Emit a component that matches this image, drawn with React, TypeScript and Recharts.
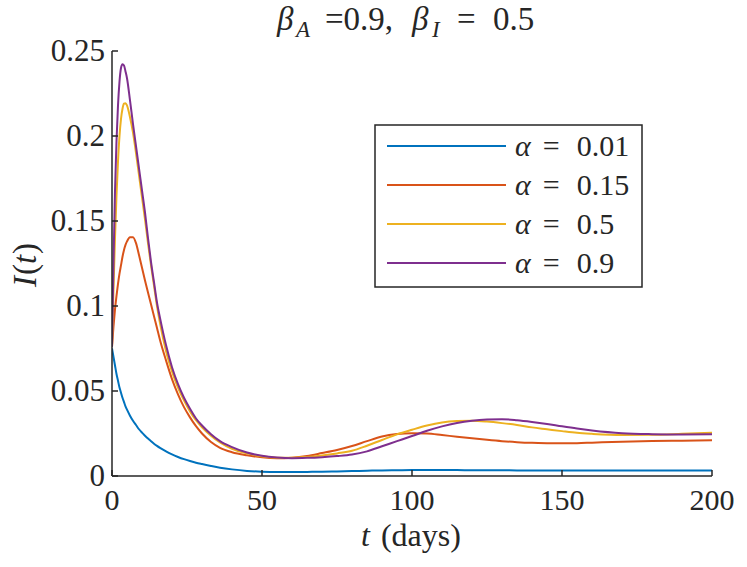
import React from 'react';
import { LineChart, Line, XAxis, YAxis, Customized } from 'recharts';

const T = [0,0.5,1,1.5,2,2.5,3,3.5,4,4.5,5,6,7,8,9,10,11,12,13,14,15,16,18,20,22,24,26,28,30,33,36,40,45,50,55,60,65,70,75,80,85,90,95,100,105,110,115,120,125,130,135,140,145,150,155,160,170,180,190,200];

const ALPHA_001 = [0.075,0.070,0.065,0.060,0.056,0.052,0.049,0.046,0.0435,0.041,
  0.039,0.0355,0.0325,0.030,0.0275,0.0255,0.0237,0.022,0.0205,0.019,
  0.0177,0.0165,0.0145,0.0127,0.0112,0.0099,0.0088,0.0078,0.007,0.0059,
  0.0049,0.0039,0.003,0.0025,0.0023,0.0023,0.0024,0.0025,0.0027,0.0029,
  0.0031,0.0033,0.0034,0.0035,0.0035,0.0035,0.0035,0.0034,0.0034,0.0034,
  0.0033,0.0033,0.0033,0.0033,0.0033,0.0033,0.0033,0.0033,0.0033,0.0033];

const ALPHA_015 = [0.076,0.088,0.098,0.106,0.113,0.119,0.124,0.129,0.133,0.136,
  0.138,0.1405,0.1405,0.137,0.130,0.1225,0.115,0.108,0.101,0.094,
  0.087,0.080,0.068,0.057,0.048,0.0405,0.0345,0.0293,0.025,0.020,
  0.0166,0.014,0.0122,0.011,0.0105,0.0108,0.0118,0.0135,0.0153,0.0176,
  0.0205,0.0232,0.0247,0.0252,0.025,0.0241,0.0231,0.0222,0.0213,0.0205,
  0.0199,0.0195,0.0193,0.0192,0.0193,0.0196,0.0202,0.0206,0.0208,0.021];

const ALPHA_05 = [0.076,0.11,0.14,0.165,0.185,0.2,0.21,0.216,0.219,0.2193,
  0.218,0.211,0.202,0.190,0.177,0.164,0.151,0.137,0.124,0.112,
  0.100,0.090,0.0735,0.0615,0.052,0.0445,0.038,0.0328,0.0287,0.0237,
  0.0197,0.016,0.0133,0.0116,0.0108,0.0107,0.0112,0.0121,0.0133,0.0148,
  0.0178,0.0212,0.0245,0.0272,0.0297,0.0315,0.0323,0.0325,0.032,0.0311,
  0.03,0.0286,0.0275,0.0264,0.0254,0.0248,0.0241,0.0242,0.0248,0.0255];

const ALPHA_09 = [0.076,0.125,0.168,0.197,0.218,0.232,0.240,0.2422,0.2415,0.238,
  0.234,0.221,0.207,0.194,0.181,0.168,0.155,0.140,0.126,0.114,
  0.102,0.093,0.077,0.064,0.054,0.046,0.0395,0.0338,0.0297,0.0246,
  0.0205,0.017,0.0138,0.0119,0.0109,0.0105,0.0107,0.0111,0.0117,0.0126,
  0.0145,0.0175,0.0205,0.0235,0.0266,0.0292,0.0312,0.0325,0.0332,0.0334,
  0.0328,0.0318,0.0306,0.0292,0.0279,0.0268,0.0252,0.0246,0.0244,0.0245];

const X_TICKS = [0, 50, 100, 150, 200];
const Y_TICKS = [0, 0.05, 0.1, 0.15, 0.2, 0.25];

const SERIES = [
  { key: 'a1', label: '0.01', color: '#0072BD', values: ALPHA_001 },
  { key: 'a2', label: '0.15', color: '#D95319', values: ALPHA_015 },
  { key: 'a3', label: '0.5', color: '#EDB120', values: ALPHA_05 },
  { key: 'a4', label: '0.9', color: '#7E2F8E', values: ALPHA_09 },
];

const data = T.map((t, i) => {
  const row: any = { t };
  SERIES.forEach((s) => { row[s.key] = s.values[i]; });
  return row;
});

const FONT = "'Liberation Serif', 'DejaVu Serif', serif";
const INK = '#262626';

const YTick = (props: any) => {
  const { x, y, payload } = props;
  return (
    <g>
      <line x1={x} x2={x + 6} y1={y} y2={y} stroke={INK} strokeWidth={1.5} />
      <text x={x - 7} y={y + 10} textAnchor="end" fontFamily={FONT} fontSize={31} fill={INK}>
        {String(payload.value)}
      </text>
    </g>
  );
};

const XTick = (props: any) => {
  const { x, y, payload } = props;
  return (
    <g>
      <line x1={x} x2={x} y1={y} y2={y - 6} stroke={INK} strokeWidth={1.5} />
      <text x={x} y={y + 34} textAnchor="middle" fontFamily={FONT} fontSize={30} fill={INK}>
        {String(payload.value)}
      </text>
    </g>
  );
};

const Texts = () => (
  <g fontFamily={FONT} fill={INK}>
    <text y={30} fontSize={33}>
      <tspan x={277} fontStyle="italic">β</tspan>
      <tspan x={296} fontStyle="italic" fontSize={23} dy={7}>A</tspan>
      <tspan x={325} dy={-7}>=0.9,</tspan>
      <tspan x={412} fontStyle="italic">β</tspan>
      <tspan x={432} fontStyle="italic" fontSize={23} dy={7}>I</tspan>
      <tspan x={457} dy={-7}>=</tspan>
      <tspan x={493}>0.5</tspan>
    </text>
    <text x={0} y={0} transform="translate(36,265) rotate(-90)" textAnchor="middle" fontSize={33}>
      <tspan fontStyle="italic">I</tspan>
      <tspan dx={1}>(</tspan>
      <tspan fontStyle="italic">t</tspan>
      <tspan dx={1}>)</tspan>
    </text>
    <text x={411} y={546} textAnchor="middle" fontSize={32}>
      <tspan fontStyle="italic">t</tspan>
      <tspan dx={11}>(days)</tspan>
    </text>
  </g>
);

const LegendBox = () => (
  <g fontFamily={FONT} fill={INK}>
    <rect x={375} y={125} width={267} height={162} fill="#fff" stroke={INK} strokeWidth={1.5} />
    {SERIES.map((s, i) => {
      const cy = 146 + i * 39;
      return (
        <g key={s.key}>
          <line x1={387} x2={506} y1={cy} y2={cy} stroke={s.color} strokeWidth={2} />
          <text x={515} y={cy + 10} fontSize={30}>
            <tspan fontStyle="italic">α</tspan>
            <tspan dx={12}>=</tspan>
            <tspan dx={17}>{s.label}</tspan>
          </text>
        </g>
      );
    })}
  </g>
);

export default function App() {
  return (
    <div style={{ position: 'absolute', left: 0, top: 0, width: 747, height: 567, background: '#fff' }}>
      <LineChart width={747} height={567} data={data} margin={{ top: 51, right: 35, left: 0, bottom: 0 }}>
        <XAxis
          dataKey="t" type="number" domain={[0, 200]} ticks={X_TICKS} allowDataOverflow
          height={91} tickSize={0} tickMargin={0} tickLine={false}
          axisLine={{ stroke: INK, strokeWidth: 1.5 }} tick={<XTick />} interval={0}
        />
        <YAxis
          type="number" domain={[0, 0.25]} ticks={Y_TICKS} allowDataOverflow
          width={112} tickSize={0} tickMargin={0} tickLine={false}
          axisLine={{ stroke: INK, strokeWidth: 1.5 }} tick={<YTick />} interval={0}
        />
        {SERIES.map((s) => (
          <Line key={s.key} type="monotone" dataKey={s.key} name={s.label} stroke={s.color}
            strokeWidth={2} dot={false} activeDot={false} isAnimationActive={false} />
        ))}
        <Customized component={<LegendBox />} />
        <Customized component={<Texts />} />
      </LineChart>
    </div>
  );
}
